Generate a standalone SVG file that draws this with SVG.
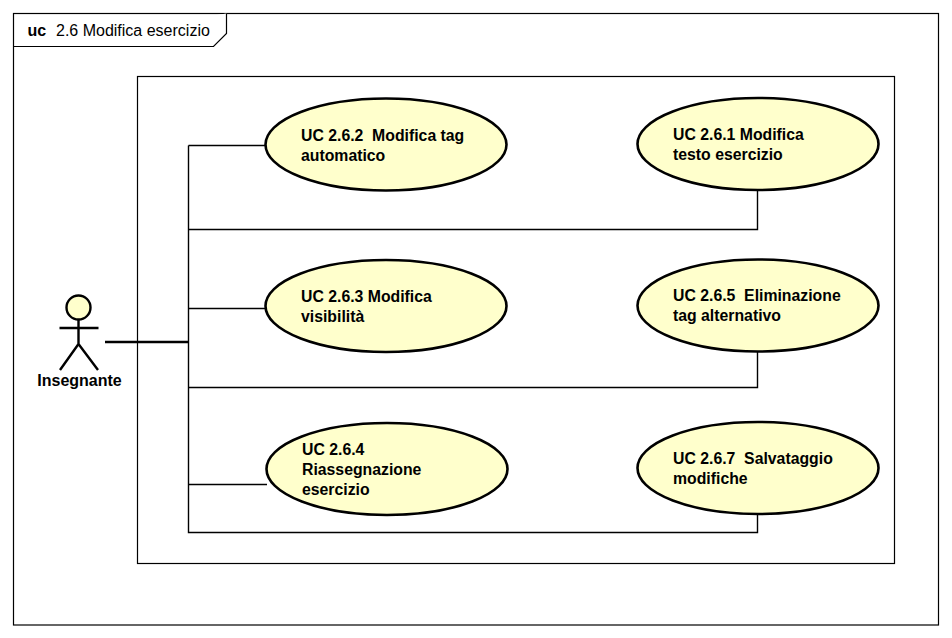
<svg xmlns="http://www.w3.org/2000/svg" width="952" height="638" viewBox="0 0 952 638">
<style>
text{font-family:"Liberation Sans",Arial,sans-serif;font-size:16px;fill:#000;white-space:pre}
.b{font-weight:bold}
.uc ellipse{fill:#ffffcc;stroke:#000;stroke-width:2.6}
.uc text{font-weight:bold;font-size:15.8px}
.frame{fill:#fff;stroke:#000;stroke-width:1.2}
.c{fill:none;stroke:#000;stroke-width:1.4}
.a{fill:none;stroke:#000;stroke-width:2.4}
</style>
<rect width="952" height="638" fill="#fff"/>
<g id="frame">
<rect class="frame" x="13.5" y="13.5" width="925" height="611.500"/>
<path class="frame" d="M13.5 46.500H213.500L226.500 33.500V13.500"/>
<text x="27.500" y="36" class="b">uc</text>
<text x="56" y="36">2.6 Modifica esercizio</text>
</g>
<g id="system"><rect class="frame" x="137.500" y="76.500" width="757" height="487"/></g>
<g id="connectors">
<path class="c" d="M188.500 145.500V532.500H757.500V514"/>
<path class="c" d="M188.500 145.500H266"/>
<path class="c" d="M188.500 229.500H757.500V189"/>
<path class="c" d="M188.500 308.500H266"/>
<path class="c" d="M188.500 387.500H757.500V351"/>
<path class="c" d="M188.500 484.500H267"/>
<path class="a" d="M105 342H189"/>
</g>
<g id="actor">
<circle cx="78.500" cy="307.500" r="12" fill="#ffffcc" stroke="#000" stroke-width="2.400"/>
<path class="a" d="M78.500 320V344M59.500 328H98.500M78.500 344L60 370M78.500 344L98 370"/>
<text x="79.500" y="386" text-anchor="middle" class="b">Insegnante</text>
</g>
<g id="uc262" class="uc"><ellipse cx="386" cy="144.500" rx="120.500" ry="46"/><text x="301" y="141">UC 2.6.2  Modifica tag</text><text x="301" y="161">automatico</text></g>
<g id="uc261" class="uc"><ellipse cx="758" cy="144" rx="120.500" ry="46"/><text x="673" y="140">UC 2.6.1 Modifica</text><text x="673" y="160">testo esercizio</text></g>
<g id="uc263" class="uc"><ellipse cx="386" cy="306" rx="120.500" ry="46"/><text x="301" y="302">UC 2.6.3 Modifica</text><text x="301" y="322">visibilità</text></g>
<g id="uc265" class="uc"><ellipse cx="758" cy="305.500" rx="120.500" ry="46"/><text x="673" y="301">UC 2.6.5  Eliminazione</text><text x="673" y="321">tag alternativo</text></g>
<g id="uc264" class="uc"><ellipse cx="387" cy="469" rx="120.500" ry="46"/><text x="302" y="455">UC 2.6.4</text><text x="302" y="475">Riassegnazione</text><text x="302" y="495">esercizio</text></g>
<g id="uc267" class="uc"><ellipse cx="758" cy="468" rx="120.500" ry="46"/><text x="673" y="464">UC 2.6.7  Salvataggio</text><text x="673" y="484">modifiche</text></g>
</svg>
